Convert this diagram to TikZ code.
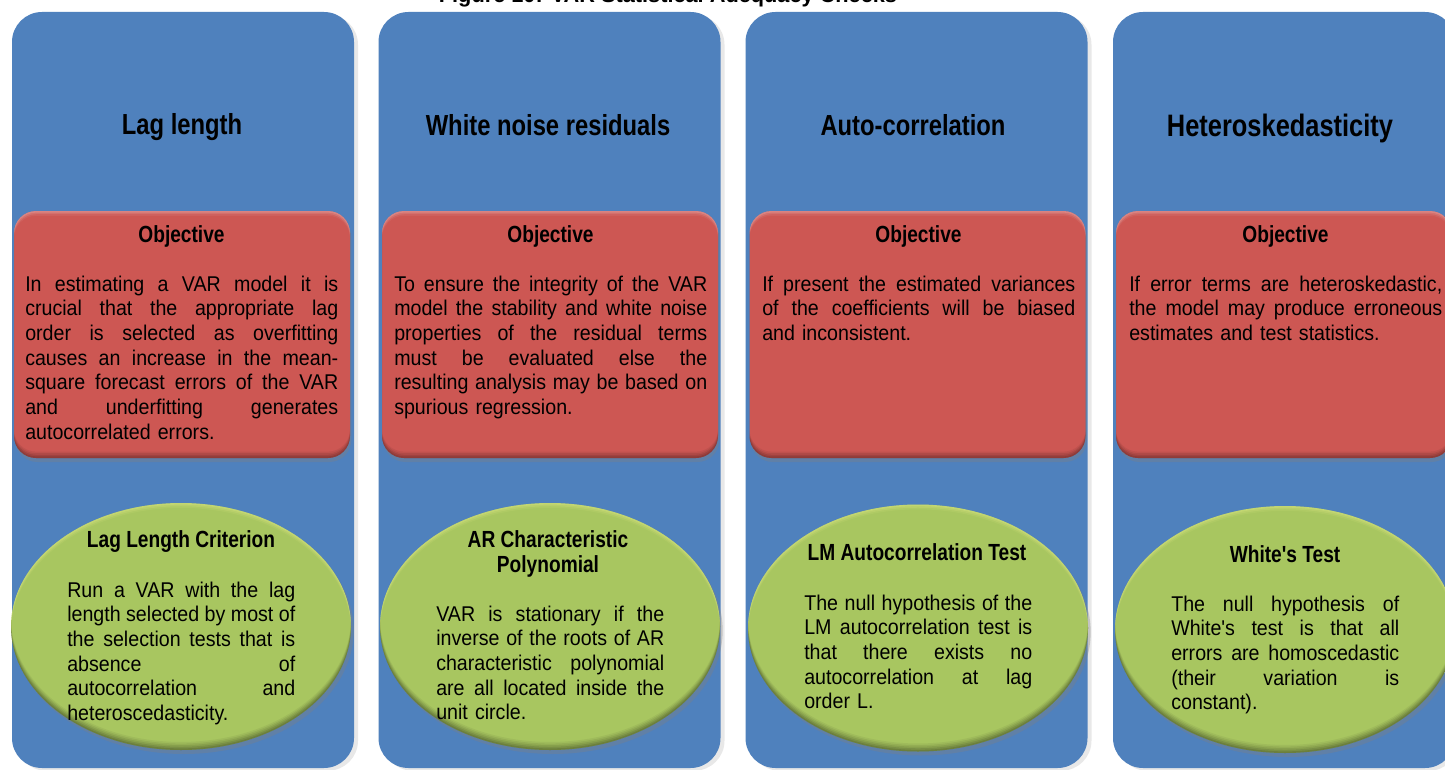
\documentclass[tikz,border=0pt]{standalone}
\usepackage{fontspec}
\setmainfont{Liberation Sans}
\newfontfamily\narrowfont{Liberation Sans}[FakeStretch=0.92]
\newfontfamily\headfont{Liberation Sans}[FakeStretch=0.82]
\usetikzlibrary{shapes.geometric,shadows}
\definecolor{colblue}{RGB}{79,129,189}
\definecolor{objred}{RGB}{205,87,83}
\definecolor{testgreen}{RGB}{168,198,96}
% justified lines: spaces get infinite stretch so every line fills the width
\newcommand\rline[1]{\hbox to 234.75pt{\spaceskip=0.256em plus 1fil\relax\strut #1}}
\newcommand\eline[1]{\hbox to 171pt{\spaceskip=0.256em plus 1fil\relax\strut #1}}
\newcommand\lastline[1]{\hbox{\strut #1}}
\tikzset{
  colbox/.style={rectangle, rounded corners=22.5pt, fill=colblue, inner sep=0pt,
    minimum width=256.5pt, minimum height=567pt,
    drop shadow={opacity=0.18, shadow xshift=3pt, shadow yshift=-2pt}},
  objbox/.style={rectangle, rounded corners=16.5pt, fill=objred, inner sep=0pt,
    minimum width=252pt, minimum height=185.25pt,
    drop shadow={opacity=0.35, shadow xshift=1pt, shadow yshift=-3pt},
    path picture={
      \foreach \d/\o in {1.2pt/0.10,2.4pt/0.10,3.6pt/0.08,4.8pt/0.06}{
        \fill[black, opacity=\o, even odd rule]
          ([shift={(-6pt,-6pt)}]path picture bounding box.south west) rectangle
          ([shift={(6pt,6pt)}]path picture bounding box.north east)
          [rounded corners=16.5pt]
          ([yshift=\d]path picture bounding box.south west) rectangle
          ([yshift=\d]path picture bounding box.north east);}
      \foreach \d/\o in {1.2pt/0.14,2.4pt/0.10,3.6pt/0.06}{
        \fill[white, opacity=\o, even odd rule]
          ([shift={(-6pt,-6pt)}]path picture bounding box.south west) rectangle
          ([shift={(6pt,6pt)}]path picture bounding box.north east)
          [rounded corners=16.5pt]
          ([yshift=-\d]path picture bounding box.south west) rectangle
          ([yshift=-\d]path picture bounding box.north east);}
    }},
  testell/.style={ellipse, fill=testgreen, inner sep=0pt,
    minimum width=255pt, minimum height=185.25pt,
    drop shadow={opacity=0.35, shadow xshift=2pt, shadow yshift=-3pt},
    path picture={
      \foreach \d/\o in {1.2pt/0.10,2.4pt/0.10,3.6pt/0.08,4.8pt/0.07,6pt/0.05}{
        \fill[black, opacity=\o, even odd rule]
          ([shift={(-6pt,-6pt)}]path picture bounding box.south west) rectangle
          ([shift={(6pt,6pt)}]path picture bounding box.north east)
          ([yshift=\d]path picture bounding box.center) ellipse [x radius=127.5pt, y radius=92.6pt];}
      \foreach \d/\o in {1.2pt/0.16,2.4pt/0.12,3.6pt/0.08}{
        \fill[yellow!40!white, opacity=\o, even odd rule]
          ([shift={(-6pt,-6pt)}]path picture bounding box.south west) rectangle
          ([shift={(6pt,6pt)}]path picture bounding box.north east)
          ([yshift=-\d]path picture bounding box.center) ellipse [x radius=127.5pt, y radius=92.6pt];}
    }},
  header/.style={anchor=base, inner sep=0pt, font=\headfont\bfseries\fontsize{21.75}{24}\selectfont},
  subhead/.style={anchor=base, inner sep=0pt, align=center, font=\headfont\bfseries\fontsize{17.5}{18.5}\selectfont},
  redtext/.style={anchor=base west, inner sep=0pt, text width=234.75pt, font=\narrowfont\fontsize{16}{18.5}\selectfont},
  elltext/.style={anchor=base west, inner sep=0pt, text width=171pt, font=\narrowfont\fontsize{16}{18.5}\selectfont},
}
\begin{document}
\begin{tikzpicture}[x=0.75pt,y=-0.75pt]
\useasboundingbox (0,0) rectangle (1445,770);
\fill[white] (0,0) rectangle (1445,770);
\node[anchor=base, inner sep=0pt, font=\bfseries\fontsize{16.3}{18}\selectfont] (title) at (668,3) {Figure 10: VAR Statistical Adequacy Checks};
% columns
\node[colbox] (c1) at (183,390) {};
\node[colbox] (c2) at (549.5,390) {};
\node[colbox] (c3) at (916.5,390) {};
\node[colbox] (c4) at (1284,390) {};
% headers
\node[header] (h1) at (182,135) {Lag length};
\node[header] (h2) at (548,136) {White noise residuals};
\node[header] (h3) at (913,136) {Auto-correlation};
\node[header, font=\headfont\bfseries\fontsize{23.25}{26}\selectfont] (h4) at (1280,137) {Heteroskedasticity};
% objective boxes
\node[objbox] (o1) at (182,334.5) {};
\node[objbox] (o2) at (550,334.5) {};
\node[objbox] (o3) at (917.5,334.5) {};
\node[objbox] (o4) at (1284,334.5) {};
\node[subhead] (ot1) at (181.5,242) {Objective};
\node[subhead] (ot2) at (550.5,242) {Objective};
\node[subhead] (ot3) at (918.5,242) {Objective};
\node[subhead] (ot4) at (1285.5,242) {Objective};
\node[redtext] (ob1) at (25,291) {%
\rline{In estimating a VAR model it is}
\rline{crucial that the appropriate lag}
\rline{order is selected as overfitting}
\rline{causes an increase in the mean-}
\rline{square forecast errors of the VAR}
\rline{and underfitting generates}
\lastline{autocorrelated errors.}};
\node[redtext] (ob2) at (394,291) {%
\rline{To ensure the integrity of the VAR}
\rline{model the stability and white noise}
\rline{properties of the residual terms}
\rline{must be evaluated else the}
\rline{resulting analysis may be based on}
\lastline{spurious regression.}};
\node[redtext] (ob3) at (762,291) {%
\rline{If present the estimated variances}
\rline{of the coefficients will be biased}
\lastline{and inconsistent.}};
\node[redtext] (ob4) at (1129,291) {%
\rline{If error terms are heteroskedastic,}
\rline{the model may produce erroneous}
\lastline{estimates and test statistics.}};
% test ellipses
\node[testell] (e1) at (181,626.5) {};
\node[testell] (e2) at (550,626.5) {};
\node[testell] (e3) at (918,628) {};
\node[testell] (e4) at (1285,629.5) {};
\node[subhead] (et1) at (181,547) {Lag Length Criterion};
\node[subhead] (et2) at (548,572) {AR Characteristic\\Polynomial};
\node[subhead] (et3) at (917,560) {LM Autocorrelation Test};
\node[subhead] (et4) at (1285,562) {White's Test};
\node[elltext] (eb1) at (67,597) {%
\eline{Run a VAR with the lag}
\eline{length selected by most of}
\eline{the selection tests that is}
\eline{absence of}
\eline{autocorrelation and}
\lastline{heteroscedasticity.}};
\node[elltext] (eb2) at (436,621) {%
\eline{VAR is stationary if the}
\eline{inverse of the roots of AR}
\eline{characteristic polynomial}
\eline{are all located inside the}
\lastline{unit circle.}};
\node[elltext] (eb3) at (804,610) {%
\eline{The null hypothesis of the}
\eline{LM autocorrelation test is}
\eline{that there exists no}
\eline{autocorrelation at lag}
\lastline{order L.}};
\node[elltext] (eb4) at (1171,611) {%
\eline{The null hypothesis of}
\eline{White's test is that all}
\eline{errors are homoscedastic}
\eline{(their variation is}
\lastline{constant).}};
\end{tikzpicture}
\end{document}
